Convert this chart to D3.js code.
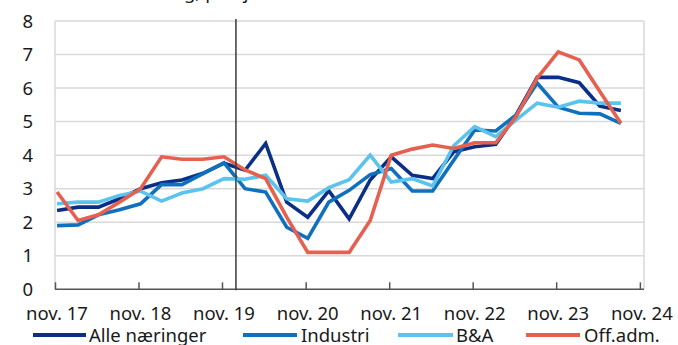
<!DOCTYPE html>
<html>
<head>
<meta charset="utf-8">
<script src="https://cdn.jsdelivr.net/npm/d3@7"></script>
<style>
  html, body { margin: 0; padding: 0; background: #fff; }
  svg { display: block; }
  text { font-family: "Noto Sans", "Open Sans", sans-serif; fill: #1a1a1a; }
</style>
</head>
<body>
<svg id="chart" width="678" height="345"></svg>
<script>
// Quarterly survey rounds (year-month)
const periods = [
  "2017-11","2018-02","2018-05","2018-08","2018-11","2019-02","2019-05","2019-08",
  "2019-11","2020-02","2020-05","2020-08","2020-11","2021-02","2021-05","2021-08",
  "2021-11","2022-02","2022-05","2022-08","2022-11","2023-02","2023-05","2023-08",
  "2023-11","2024-02","2024-05","2024-08"
];

// Wage growth, per cent
const alleNaeringer = [2.35,2.45,2.45,2.7,3.0,3.18,3.26,3.46,3.76,3.55,4.35,2.6,2.15,2.94,2.1,3.26,3.95,3.4,3.3,4.1,4.25,4.32,5.2,6.32,6.32,6.16,5.46,5.33];
const industri      = [1.9,1.92,2.22,2.37,2.55,3.12,3.12,3.45,3.77,3.0,2.9,1.85,1.52,2.6,2.95,3.42,3.6,2.93,2.93,3.85,4.75,4.72,5.2,6.15,5.43,5.25,5.23,4.95];
const bogA          = [2.55,2.6,2.6,2.8,2.93,2.63,2.87,3.0,3.3,3.28,3.4,2.7,2.63,3.03,3.27,4.0,3.2,3.3,3.08,4.28,4.85,4.55,5.05,5.55,5.43,5.61,5.55,5.55];
const offAdm        = [2.9,2.05,2.22,2.6,3.0,3.95,3.88,3.88,3.95,3.56,3.3,2.15,1.1,1.1,1.1,2.05,4.0,4.18,4.3,4.2,4.37,4.37,5.15,6.3,7.08,6.84,5.9,4.95];

const seriesNames  = ["Alle næringer", "Industri", "B&A", "Off.adm."];
const seriesColors = ["#0b2f86", "#0f70bd", "#5cc3ec", "#e5604f"];
const yTicks = [0,1,2,3,4,5,6,7,8];
const xTickLabels = ["nov. 17","nov. 18","nov. 19","nov. 20","nov. 21","nov. 22","nov. 23","nov. 24"];
const subtitle = "Prosentvis endring, prosjektert";
const markerDate = "2020-01";

const parseMonth = d3.timeParse("%Y-%m");
const dates = periods.map(p => { const d = parseMonth(p); d.setDate(10); return d; });
const tickDates = xTickLabels.map(l => new Date(2000 + +l.slice(-2), 10, 1));

const svg = d3.select("#chart");
const plotLeft = 55, plotRight = 644, plotTop = 21, plotBottom = 289.3;

const x = d3.scaleTime()
  .domain([new Date(2017, 10, 1), new Date(2024, 10, 19)])
  .range([plotLeft, plotRight]);
const y = d3.scaleLinear().domain([0, 8]).range([plotBottom, plotTop]);

// subtitle line (runs off the top edge)
svg.append("text")
  .attr("x", 32).attr("y", -1.5)
  .style("font-size", "18.5px")
  .text(subtitle);

// horizontal gridlines
svg.append("g")
  .selectAll("line")
  .data(yTicks.filter(v => v > 0))
  .join("line")
  .attr("x1", plotLeft).attr("x2", plotRight)
  .attr("y1", d => y(d)).attr("y2", d => y(d))
  .attr("stroke", "#d9d9d9").attr("stroke-width", 1.5);

// plot frame sides
svg.append("line").attr("x1", plotLeft).attr("x2", plotLeft).attr("y1", plotTop).attr("y2", plotBottom)
  .attr("stroke", "#d9d9d9").attr("stroke-width", 1.5);
svg.append("line").attr("x1", plotRight).attr("x2", plotRight).attr("y1", plotTop).attr("y2", plotBottom)
  .attr("stroke", "#d9d9d9").attr("stroke-width", 1.5);

// y tick labels
svg.append("g")
  .selectAll("text")
  .data(yTicks)
  .join("text")
  .attr("x", 33).attr("y", d => y(d))
  .attr("dy", "0.36em")
  .attr("text-anchor", "end")
  .style("font-size", "18.5px")
  .text(d => d);

// x axis with inward ticks
const xAxis = d3.axisTop(x)
  .tickValues(tickDates)
  .tickSize(7)
  .tickFormat("");
const gx = svg.append("g").attr("transform", `translate(0,${plotBottom})`).call(xAxis);
gx.select(".domain").remove();
gx.selectAll(".tick line").attr("stroke", "#555").attr("stroke-width", 1.5);
svg.append("line").attr("x1", plotLeft).attr("x2", plotRight).attr("y1", plotBottom).attr("y2", plotBottom)
  .attr("stroke", "#555").attr("stroke-width", 1.5);

svg.append("g")
  .selectAll("text")
  .data(tickDates)
  .join("text")
  .attr("x", d => x(d) + 2)
  .attr("y", 319.5)
  .attr("text-anchor", "middle")
  .style("font-size", "18.5px")
  .text((d, i) => xTickLabels[i]);

// series lines
const allSeries = [alleNaeringer, industri, bogA, offAdm];
const line = d3.line()
  .x((d, i) => x(dates[i]))
  .y(d => y(d));

svg.append("g")
  .selectAll("path")
  .data(allSeries)
  .join("path")
  .attr("fill", "none")
  .attr("stroke", (d, i) => seriesColors[i])
  .attr("stroke-width", 3.6)
  .attr("stroke-linejoin", "miter")
  .attr("d", line);

// vertical marker line
const mx = x(parseMonth(markerDate));
svg.append("line")
  .attr("x1", mx).attr("x2", mx)
  .attr("y1", 19).attr("y2", plotBottom + 1)
  .attr("stroke", "#3a3a3a").attr("stroke-width", 1.5);

// legend
const legendItems = [
  { x1: 33, x2: 86, tx: 89 },
  { x1: 243, x2: 297, tx: 301 },
  { x1: 398, x2: 453, tx: 456 },
  { x1: 526, x2: 580, tx: 584 }
];
const lg = svg.append("g");
legendItems.forEach((it, i) => {
  lg.append("line")
    .attr("x1", it.x1).attr("x2", it.x2)
    .attr("y1", 335).attr("y2", 335)
    .attr("stroke", seriesColors[i]).attr("stroke-width", 4);
  lg.append("text")
    .attr("x", it.tx).attr("y", 341.5)
    .style("font-size", "18.5px")
    .text(seriesNames[i]);
});
</script>
</body>
</html>
